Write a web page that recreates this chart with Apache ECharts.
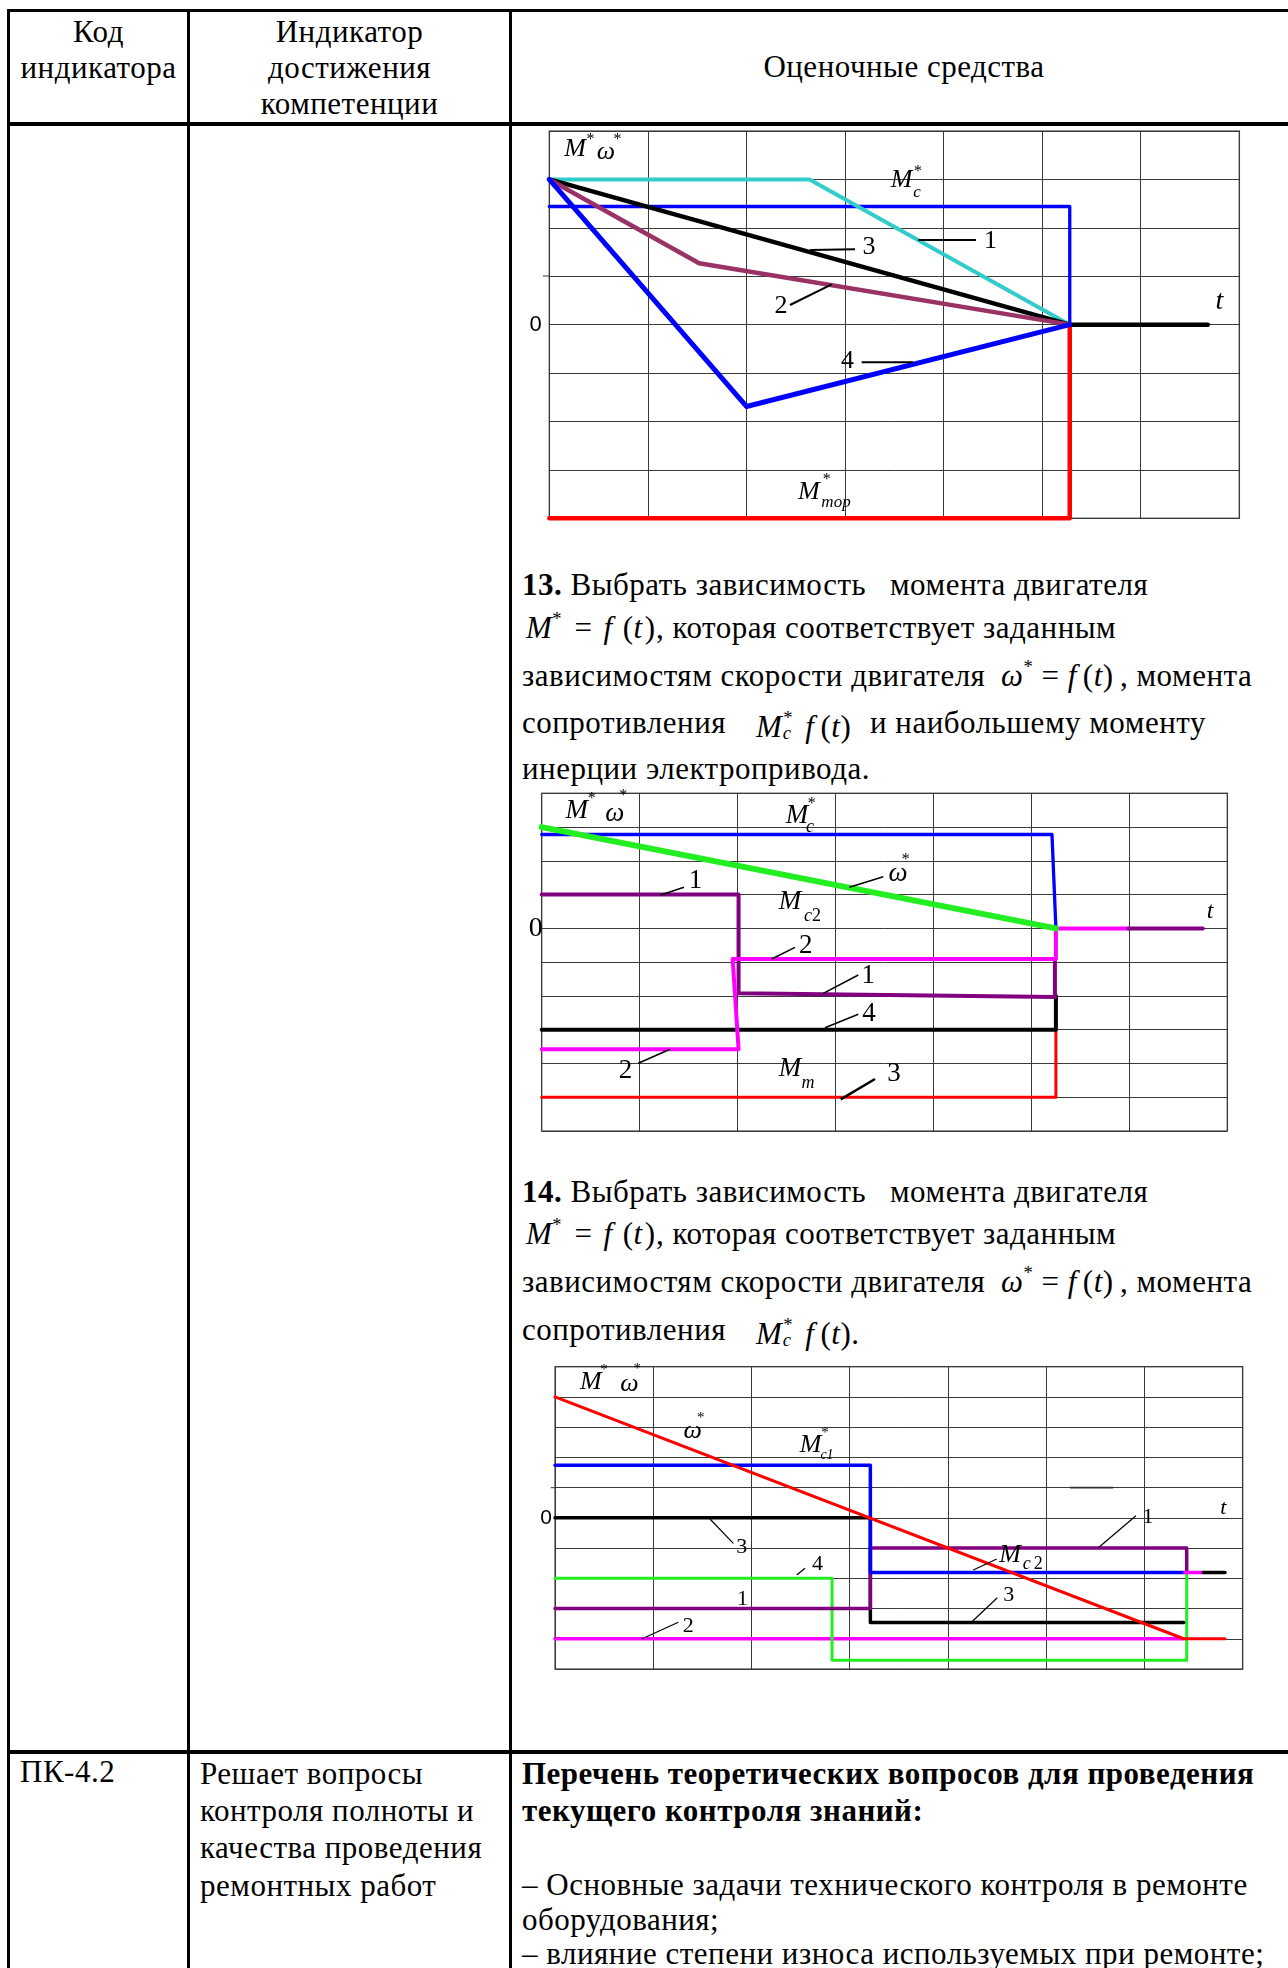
<!DOCTYPE html>
<html><head><meta charset="utf-8">
<script src="https://cdn.jsdelivr.net/npm/echarts@6.0.0/dist/echarts.min.js"></script>
<style>
html,body{margin:0;padding:0;background:#fff;}
body{width:1288px;height:1968px;overflow:hidden;position:relative;font-family:"Liberation Serif",serif;color:#000;}
.r{position:absolute;background:#000;}
.ln{position:absolute;white-space:nowrap;font-size:31px;line-height:34px;letter-spacing:0.5px;}
.c{text-align:center;}
i{font-style:italic;}
sup.s{font-size:0.6em;vertical-align:0.7em;line-height:0;}
.st{display:inline-block;position:relative;width:0.42em;height:1em;}
.st .a{position:absolute;left:0.05em;top:-0.25em;font-size:0.6em;}
.st .b{position:absolute;left:0.02em;top:0.55em;font-size:0.6em;font-style:italic;}
.g{display:inline-block;width:6px;}
.ch{position:absolute;}
</style></head>
<body>
<!-- table rules -->
<div class="r" style="left:7px;top:9px;width:1281px;height:3px"></div>
<div class="r" style="left:7px;top:9px;width:3px;height:1959px"></div>
<div class="r" style="left:187px;top:9px;width:3px;height:1959px"></div>
<div class="r" style="left:509px;top:9px;width:3px;height:1959px"></div>
<div class="r" style="left:7px;top:122px;width:1281px;height:3.5px"></div>
<div class="r" style="left:7px;top:1750px;width:1281px;height:3.5px"></div>

<!-- header -->
<div class="ln c" style="left:10px;width:177px;top:14px;line-height:36px">Код<br>индикатора</div>
<div class="ln c" style="left:190px;width:319px;top:14px;line-height:36px">Индикатор<br>достижения<br>компетенции</div>
<div class="ln c" style="left:512px;width:784px;top:50px;">Оценочные средства</div>

<!-- question 13 -->
<div class="ln" style="left:522px;top:567.5px"><b>13.</b> Выбрать зависимость</div>
<div class="ln" style="left:890px;top:567.5px">момента двигателя</div>
<div class="ln" style="left:526px;top:610.5px"><i>M</i><sup class="s">*</sup><span class="g" style="width:4px"></span> = <span class="g" style="width:3px"></span><i>f</i><span class="g" style="width:10px"></span>(<i>t</i><span class="g" style="width:2px"></span>)</div>
<div class="ln" style="left:656px;top:610.5px">, которая соответствует заданным</div>
<div class="ln" style="left:522px;top:658.5px">зависимостям скорости двигателя</div>
<div class="ln" style="left:1001px;top:658.5px"><i>ω</i><sup class="s">*</sup> = <i>f</i><span class="g"></span>(<i>t</i>)</div>
<div class="ln" style="left:1120px;top:658.5px">, момента</div>
<div class="ln" style="left:522px;top:705.5px">сопротивления</div>
<div class="ln" style="left:756px;top:705.5px"><i>M</i><span class="st"><span class="a">*</span><span class="b">c</span></span><span class="g" style="width:10px"></span><i>f</i><span class="g"></span>(<i>t</i>)</div>
<div class="ln" style="left:870px;top:705.5px">и наибольшему моменту</div>
<div class="ln" style="left:522px;top:751.5px">инерции электропривода.</div>

<!-- question 14 -->
<div class="ln" style="left:522px;top:1174.5px"><b>14.</b> Выбрать зависимость</div>
<div class="ln" style="left:890px;top:1174.5px">момента двигателя</div>
<div class="ln" style="left:526px;top:1216.5px"><i>M</i><sup class="s">*</sup><span class="g" style="width:4px"></span> = <span class="g" style="width:3px"></span><i>f</i><span class="g" style="width:10px"></span>(<i>t</i><span class="g" style="width:2px"></span>)</div>
<div class="ln" style="left:656px;top:1216.5px">, которая соответствует заданным</div>
<div class="ln" style="left:522px;top:1264.5px">зависимостям скорости двигателя</div>
<div class="ln" style="left:1001px;top:1264.5px"><i>ω</i><sup class="s">*</sup> = <i>f</i><span class="g"></span>(<i>t</i>)</div>
<div class="ln" style="left:1120px;top:1264.5px">, момента</div>
<div class="ln" style="left:522px;top:1312.5px">сопротивления</div>
<div class="ln" style="left:756px;top:1312.5px"><i>M</i><span class="st"><span class="a">*</span><span class="b">c</span></span><span class="g" style="width:10px"></span><i>f</i><span class="g"></span>(<i>t</i>).</div>

<!-- bottom row -->
<div class="ln" style="left:20px;top:1755px">ПК-4.2</div>
<div class="ln" style="left:200px;top:1755px;line-height:37.2px">Решает вопросы<br>контроля полноты и<br>качества проведения<br>ремонтных работ</div>
<div class="ln" style="left:522px;top:1755px;line-height:37.2px"><b>Перечень теоретических вопросов для проведения<br>текущего контроля знаний:</b></div>
<div class="ln" style="left:522px;top:1868px;line-height:34.6px">– Основные задачи технического контроля в ремонте<br>оборудования;<br>– влияние степени износа используемых при ремонте;</div>

<div id="c1" class="ch" style="left:511px;top:126px;width:777px;height:420px"></div>
<div id="c2" class="ch" style="left:511px;top:782px;width:777px;height:365px"></div>
<div id="c3" class="ch" style="left:511px;top:1352px;width:777px;height:330px"></div>

<script>
// ---------- data (t, value) in axis units ----------
// chart 1 (question 12)
const c1Red    = [[0,-4],[5.28,-4],[5.28,0]];          // M*тор
const c1BlueMc = [[0,2.44],[5.28,2.44],[5.28,0]];      // M*c
const c1Cyan   = [[0,3],[2.64,3],[5.28,0]];            // 1
const c1Black  = [[0,3],[5.28,0],[6.68,0]];            // 3
const c1Purple = [[0,3],[1.52,1.27],[5.28,0]];         // 2
const c1Blue4  = [[0,3],[2.0,-1.69],[5.28,0]];         // 4
// chart 2 (question 13)
const c2Red     = [[0,-5],[5.25,-5],[5.25,-3]];         // 3, Mm
const c2Black   = [[0,-3],[5.25,-3],[5.25,-2]];         // 4
const c2Purple  = [[0,1],[2.01,1],[2.01,-1.92],[5.24,-2.03],[5.24,-0.91]]; // 1
const c2PurpleT = [[5.99,0],[6.75,0]];
const c2Magenta = [[0,-3.58],[2.01,-3.58],[1.95,-0.91],[5.25,-0.91],[5.25,0],[5.99,0]]; // 2
const c2Blue    = [[0,2.78],[5.21,2.78],[5.25,0]];      // M*c
const c2Green   = [[0,3],[5.25,0]];                     // ω*
// chart 3 (question 14)
const c3Magenta = [[0,-4],[6.4,-4]];                    // 2
const c3Green   = [[0,-2],[2.82,-2],[2.82,-4.71],[6.43,-4.71],[6.43,-1.8]]; // 4
const c3Black   = [[0,0],[3.21,0],[3.21,-3.46],[6.4,-3.46]]; // 3
const c3Purple  = [[0,-3],[3.21,-3],[3.21,-1],[6.43,-1],[6.43,-1.8]]; // 1
const c3Blue    = [[0,1.74],[3.21,1.74],[3.21,-1.81],[6.41,-1.81]]; // M*c1 / Mc2
const c3MagT    = [[6.41,-1.81],[6.6,-1.81]];
const c3BlackT  = [[6.6,-1.81],[6.82,-1.81]];
const c3Red     = [[0,4],[6.4,-4],[6.82,-4]];           // ω*

const xTicks = {min:0, max:7, interval:1};
const y1 = {min:-4, max:4}, y2 = {min:-6, max:4}, y3 = {min:-5, max:5};

// ---------- helpers ----------
const SERIF = '"Liberation Serif", serif';
const SANS = '"Liberation Sans", sans-serif';
function ln(data, color, width, z){
  return {type:'line', data:data, symbol:'none', showSymbol:false, silent:true, clip:false, z:z||2,
    lineStyle:{color:color, width:width, cap:'round', join:'round'}, emphasis:{disabled:true}};
}
function labels(ox, oy, list){
  return list.map(function(d){
    const fam = d[4]==='s' ? SANS : SERIF;
    const sty = d[4]==='i' ? 'italic ' : '';
    return {type:'text', x:d[0]-ox, y:d[1]-oy, z:100, silent:true,
      style:{text:d[2], font: sty + d[3] + 'px ' + fam, fill:'#000',
        textAlign:'center', textVerticalAlign:'middle', align:'center', verticalAlign:'middle'}};
  });
}
function leaders(ox, oy, list){
  return list.map(function(d){
    return {type:'line', z:100, silent:true, shape:{x1:d[0]-ox, y1:d[1]-oy, x2:d[2]-ox, y2:d[3]-oy},
      style:{stroke:d[5]||'#000', lineWidth:d[4]||1.5}};
  });
}
function base(g, yr, zeroLbl, series, graphic){
  return {
    animation:false,
    tooltip:{show:false},
    grid:{left:g[0], top:g[1], width:g[2], height:g[3], containLabel:false, outerBoundsMode:'none',
      show:true, borderColor:'#6a6a6a', borderWidth:1.5, backgroundColor:'transparent'},
    xAxis:{type:'value', min:xTicks.min, max:xTicks.max, interval:xTicks.interval,
      axisLine:{show:false}, axisTick:{show:false}, axisLabel:{show:false},
      splitLine:{show:true, lineStyle:{color:'#3a3a3a', width:1}}},
    yAxis:{type:'value', min:yr.min, max:yr.max, interval:1,
      axisLine:{show:false}, axisTick:{show:false},
      axisLabel:{show:true, margin:zeroLbl.margin, color:'#000', fontFamily:zeroLbl.family, fontSize:zeroLbl.size,
        formatter:function(v){return v===0 ? '0' : '';}},
      splitLine:{show:true, lineStyle:{color:'#3a3a3a', width:1}}},
    series:series,
    graphic:graphic
  };
}

// ---------- chart 1 ----------
(function(){
  const ox=511, oy=126;
  const ch = echarts.init(document.getElementById('c1'), null, {renderer:'canvas'});
  const lbl = labels(ox, oy, [
    [575,149,'M',26,'i'],[590.5,139.5,'*',16,'n'],[606,152.5,'ω',26,'i'],[617.5,140,'*',16,'n'],
    [901.7,180,'M',26,'i'],[918,171.5,'*',16,'n'],[917,193,'c',17,'i'],
    [990.5,241,'1',26,'n'],[869,247.5,'3',26,'n'],[781,306,'2',26,'n'],[847.5,361.5,'4',26,'n'],
    [808.8,491.7,'M',26,'i'],[826.7,480,'*',16,'n'],[836,503,'тор',17,'i'],
    [1219.5,301.7,'t',28,'i']
  ]);
  const ldr = leaders(ox, oy, [
    [918.3,240,976,240,2],[810,250,855,249.3,2],[790,305,831.7,284.3,2],[861.7,362.3,913.3,362.3,2],
    [543,276,549.3,276,1,'#333']
  ]);
  ch.setOption(base([38.3,5,690,387.3], y1, {margin:7.5, family:SANS, size:22}, [
    ln(c1Red,'#ff0000',4.5),
    ln(c1BlueMc,'#0000ff',3.3),
    ln(c1Cyan,'#33cccc',4),
    ln(c1Black,'#000000',4.5),
    ln(c1Purple,'#993366',4.5),
    ln(c1Blue4,'#0000ff',5)
  ], lbl.concat(ldr)));
})();

// ---------- chart 2 ----------
(function(){
  const ox=511, oy=782;
  const ch = echarts.init(document.getElementById('c2'), null, {renderer:'canvas'});
  const lbl = labels(ox, oy, [
    [576.7,811,'M',27,'i'],[591.7,798.5,'*',16,'n'],[614.7,814,'ω',27,'i'],[623.3,795.5,'*',16,'n'],
    [797,815.8,'M',27,'i'],[811.7,804,'*',16,'n'],[810,827,'c',18,'i'],
    [898,873.7,'ω',27,'i'],[905.7,859.5,'*',16,'n'],
    [695.5,880.8,'1',27,'n'],
    [790,901.7,'M',27,'i'],[808,916,'c',18,'i'],[816.5,916,'2',18,'n'],
    [805.8,945.8,'2',27,'n'],[868.3,975.8,'1',27,'n'],[869,1013.8,'4',27,'n'],[625.5,1070.8,'2',27,'n'],
    [790,1068.8,'M',27,'i'],[808,1083.3,'m',18,'i'],
    [894,1074,'3',27,'n'],[1210,911.3,'t',24,'i']
  ]);
  const ldr = leaders(ox, oy, [
    [849.3,887.3,883.3,876.7,1.5],[660.7,895,684,887.3,1.5],[771.7,959,795,947.3,1.5],
    [823.3,993.3,858.3,975,1.5],[825,1027.7,858.3,1014.3,1.5],[638.3,1063.3,670,1049.3,1.5],
    [840.7,1099.3,875,1079,2.5]
  ]);
  ch.setOption(base([30.7,11.3,685.6,337.7], y2, {margin:-1, family:SERIF, size:28}, [
    ln(c2Red,'#ff0000',3),
    ln(c2Black,'#000000',4),
    ln(c2Purple,'#800080',4),
    ln(c2Magenta,'#ff00ff',4),
    ln(c2PurpleT,'#800080',4),
    ln(c2Blue,'#0000ff',3.3),
    ln(c2Green,'#22ee22',6)
  ], lbl.concat(ldr)));
})();

// ---------- chart 3 ----------
(function(){
  const ox=511, oy=1352;
  const ch = echarts.init(document.getElementById('c3'), null, {renderer:'canvas'});
  const lbl = labels(ox, oy, [
    [590.8,1382.5,'M',26,'i'],[604,1370,'*',15,'n'],[629.5,1383.7,'ω',26,'i'],[637.3,1369,'*',15,'n'],
    [692.8,1430.8,'ω',26,'i'],[700.7,1418.3,'*',15,'n'],
    [810.5,1444.7,'M',26,'i'],[825,1433.3,'*',15,'n'],[827,1455,'c1',14,'i'],
    [741.7,1547.5,'3',22,'n'],[817.5,1563.8,'4',22,'n'],[742.5,1599,'1',22,'n'],[688.3,1625.8,'2',22,'n'],
    [1148,1517.5,'1',22,'n'],[1010,1555,'M',26,'i'],[1026.7,1564,'c',18,'i'],[1038.3,1564,'2',18,'n'],
    [1008.8,1595,'3',22,'n'],[1223.3,1508,'t',22,'i']
  ]);
  const ldr = leaders(ox, oy, [
    [710,1519,733.3,1543.3,1.2],[796.7,1575,805,1568.3,1.2],[641.7,1639,678.3,1622.3,1.2],
    [1098.3,1547.7,1136,1515.7,1.2],[973.3,1570,996.7,1559,1.2],[972.7,1621,997.3,1597.7,1.2],
    [550.7,1487.7,555,1487.7,1,'#333'],[1070,1487.7,1113.3,1487.7,1.8,'#333']
  ]);
  ch.setOption(base([44,14.7,687.7,302.3], y3, {margin:3, family:SANS, size:21}, [
    ln(c3Magenta,'#ff00ff',3.5),
    ln(c3Green,'#22ee22',3),
    ln(c3Black,'#000000',3.5),
    ln(c3Purple,'#800080',3.5),
    ln(c3Blue,'#0000ff',3.5),
    ln(c3MagT,'#ff00ff',3.5),
    ln(c3BlackT,'#000000',3.5),
    ln(c3Red,'#ff0000',3)
  ], lbl.concat(ldr)));
})();
</script>
</body></html>
